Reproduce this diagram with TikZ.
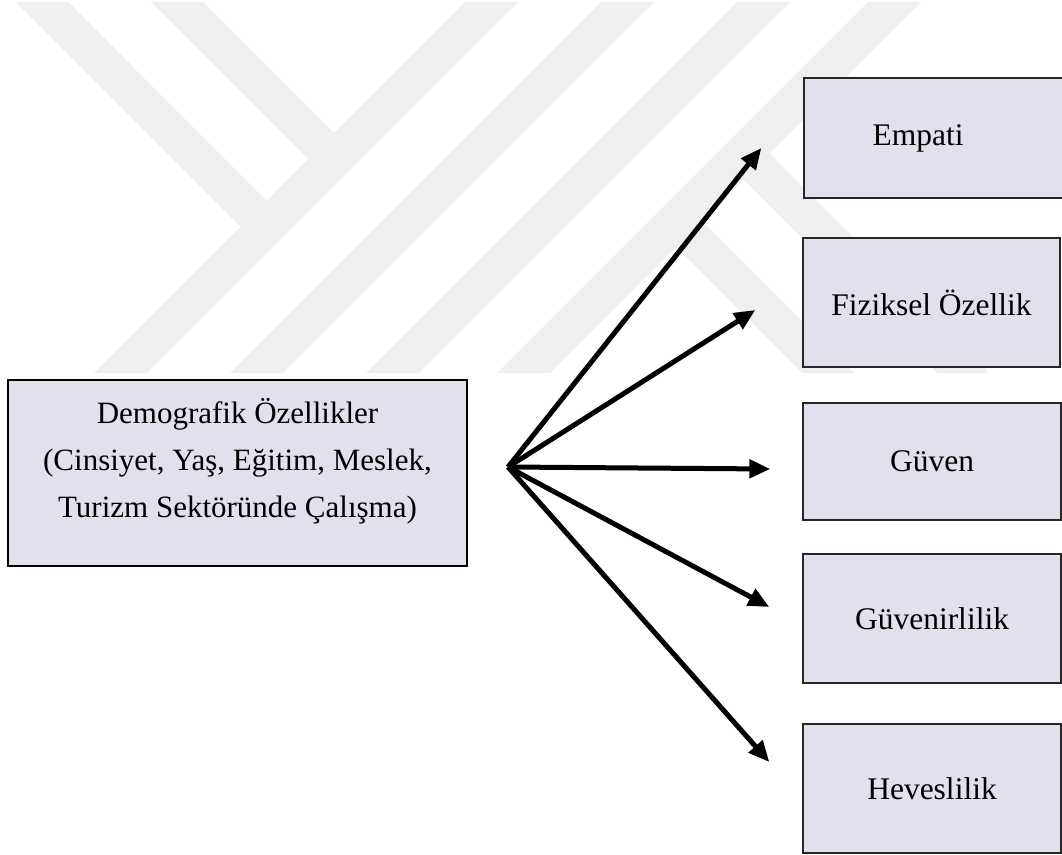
\documentclass[tikz,border=0pt]{standalone}
\usepackage{fontspec}
\setmainfont{Liberation Serif}
\usetikzlibrary{arrows.meta}
\definecolor{boxfill}{HTML}{E4DFEC}
\definecolor{wmgray}{HTML}{EFEFEF}

\begin{document}
\begin{tikzpicture}[x=1pt, y=-1pt,
    wm/.style={fill=wmgray, draw=none},
    factor/.style={draw=black!85, line width=1.3pt, fill=boxfill, inner sep=0pt,
        font=\fontsize{31.5}{47}\selectfont},
    arr/.style={line width=5pt, -{Triangle[length=21pt,width=18pt]}}]
    \useasboundingbox (0,0) rectangle (1062,854);

    % The watermark stripes
    \foreach \a in {467,603,739,870}
        \fill[wm] (\a-2,2) -- (\a+51,2) -- (\a-320,373) -- (\a-373,373) -- cycle;
    \foreach \c in {14,149}
        \fill[wm] (\c+2,2) -- (\c+54,2) -- ({(475+\c+52)/2},{(475-\c-52)/2})
            -- ({(475+\c)/2},{(475-\c)/2}) -- cycle;
    \foreach \c in {429,564}
        \fill[wm] ({(915+\c)/2},{(915-\c)/2}) -- ({(915+\c+52)/2},{(915-\c-52)/2})
            -- (\c+425,373) -- (\c+373,373) -- cycle;

    % The demographic box
    \node[factor, draw=black, line width=1.8pt, minimum width=459pt, minimum height=186pt] (demo) at (237.5,473) {};
    \node[align=center, font=\fontsize{31}{47}\selectfont] (demotxt) at (237.5,461)
        {Demografik Özellikler\\(Cinsiyet, Yaş, Eğitim, Meslek,\\Turizm Sektöründe Çalışma)};

    % The factor boxes
    \node[factor, minimum width=260pt, minimum height=120pt] (empati) at (934,138) {Empati\hspace*{32pt}};
    \node[factor, minimum width=257pt, minimum height=129pt] (fiziksel) at (931.5,302.5) {Fiziksel Özellik};
    \node[factor, minimum width=258pt, minimum height=117pt] (guven) at (932,461.5) {Güven};
    \node[factor, minimum width=258pt, minimum height=129pt] (guvenirlilik) at (932,618.5) {Güvenirlilik};
    \node[factor, minimum width=258pt, minimum height=129pt] (heveslilik) at (932,788.5) {Heveslilik};

    % The arrows
    \coordinate (hub) at (508,467);
    \draw[arr] (hub) -- ([shift={(-42,10)}]empati.west);
    \draw[arr] (hub) -- ([shift={(-47,7.5)}]fiziksel.west);
    \draw[arr] (hub) -- ([shift={(-32,7.5)}]guven.west);
    \draw[arr] (hub) -- ([shift={(-33,-11.5)}]guvenirlilik.west);
    \draw[arr] (hub) -- ([shift={(-33,-26.5)}]heveslilik.west);
\end{tikzpicture}
\end{document}
